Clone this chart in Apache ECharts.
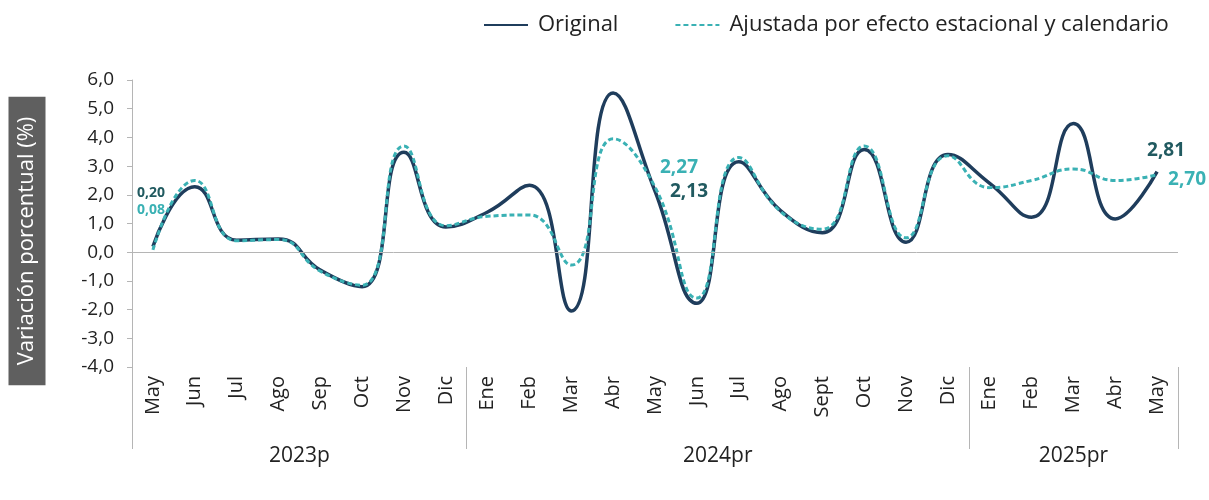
<!DOCTYPE html>
<html lang="es">
<head>
    <meta charset="UTF-8">
    <title>Variación porcentual</title>
    <script src="https://cdn.jsdelivr.net/npm/echarts@6/dist/echarts.min.js"></script>
</head>
<body style="margin:0;background:#fff">
<div id="main" style="width:1209px;height:500px"></div>
<script type="text/javascript">
    // meses (mayo 2023 - mayo 2025)
    var months = ['May', 'Jun', 'Jul', 'Ago', 'Sep', 'Oct', 'Nov', 'Dic',
        'Ene', 'Feb', 'Mar', 'Abr', 'May', 'Jun', 'Jul', 'Ago', 'Sept', 'Oct', 'Nov', 'Dic',
        'Ene', 'Feb', 'Mar', 'Abr', 'May'];
    var years = ['2023p', '2024pr', '2025pr'];
    var yearCounts = [8, 12, 5];
    var original = [0.20, 2.28, 0.42, 0.46, -0.62, -1.20, 3.48, 0.88,
        1.40, 2.33, -2.05, 5.55, 2.13, -1.78, 3.15, 1.45, 0.68, 3.58, 0.35, 3.40,
        2.40, 1.22, 4.48, 1.16, 2.81];
    var ajustada = [0.08, 2.50, 0.40, 0.44, -0.66, -1.15, 3.70, 0.92,
        1.25, 1.30, -0.45, 3.95, 2.27, -1.60, 3.30, 1.42, 0.80, 3.70, 0.50, 3.36,
        2.25, 2.50, 2.90, 2.50, 2.70];
    var yTicks = {min: -4, max: 6, interval: 1};
    var labelIdx = [0, 12, 24];   // puntos con etiqueta

    var fmt = function (v) { return v.toFixed(2).replace('.', ','); };

    // eje de años: 2 posiciones por mes, sin boundaryGap
    var yearAxis = [];
    for (var i = 0; i <= months.length * 2; i++) yearAxis.push('');
    var sepIdx = [], start = 0;
    years.forEach(function (y, k) {
        yearAxis[2 * start + yearCounts[k]] = y;
        sepIdx.push(2 * start);
        start += yearCounts[k];
    });
    sepIdx.push(2 * start);

    // desplazamiento de las etiquetas [serie][punto]
    var offs = {
        o: {0: [-2, -53], 12: [34, 1], 24: [9, -21]},
        a: {0: [-2, -40], 12: [24, -19], 24: [30, 5]}
    };
    function build(vals, key, color) {
        return vals.map(function (v, i) {
            if (labelIdx.indexOf(i) < 0) return v;
            var big = i !== 0;
            return {
                value: v, symbol: 'circle', symbolSize: 1,
                itemStyle: {color: 'rgba(0,0,0,0)', borderWidth: 0},
                label: {
                    show: true, position: 'inside', offset: offs[key][i],
                    formatter: function (p) { return fmt(p.value); },
                    color: color, fontWeight: 'bold',
                    fontSize: big ? 19 : 14, fontFamily: 'Open Sans'
                }
            };
        });
    }

    var myChart = echarts.init(document.getElementById('main'));
    var option = {
        animation: false,
        textStyle: {fontFamily: 'Open Sans'},
        legend: {
            top: 9, left: 478, itemWidth: 44, itemHeight: 14, itemGap: 56,
            itemStyle: {opacity: 0},
            textStyle: {fontSize: 22, color: '#222', padding: [0, 0, 0, 5]},
            data: ['Original', 'Ajustada por efecto estacional y calendario']
        },
        grid: {left: 132, right: 31, top: 80, bottom: 133},
        graphic: [{
            type: 'text', x: 27, y: 241, rotation: Math.PI / 2,
            style: {
                text: 'Variación porcentual (%)', fill: '#fff', fontSize: 22,
                fontFamily: 'Open Sans', align: 'center', verticalAlign: 'middle',
                backgroundColor: '#5f5f5f', padding: [8, 20, 7, 20]
            }
        }],
        xAxis: [{
            type: 'category', data: months, position: 'bottom',
            axisLine: {show: false}, axisTick: {show: false},
            axisLabel: {rotate: 90, interval: 0, margin: 9, fontSize: 20, color: '#222'}
        }, {
            type: 'category', data: yearAxis, boundaryGap: false, position: 'bottom',
            offset: 82,
            axisLine: {show: false},
            axisTick: {
                show: true, inside: true, length: 82,
                interval: function (idx) { return sepIdx.indexOf(idx) >= 0; },
                lineStyle: {color: '#b5b5b5', width: 1}
            },
            axisLabel: {
                interval: function (idx, val) { return val !== ''; },
                margin: -3, fontSize: 21, color: '#222'
            }
        }],
        yAxis: {
            type: 'value', min: yTicks.min, max: yTicks.max, interval: yTicks.interval,
            axisLine: {show: true, lineStyle: {color: '#b5b5b5'}},
            axisTick: {show: true, length: 5, lineStyle: {color: '#b5b5b5'}},
            splitLine: {show: false},
            axisLabel: {
                fontSize: 19, color: '#222', margin: 18,
                formatter: function (v) { return v.toFixed(1).replace('.', ','); }
            }
        },
        series: [{
            name: 'Original', type: 'line', smooth: 0.5, symbol: 'none', showSymbol: true,
            color: '#1f3d5c',
            lineStyle: {width: 3.5, color: '#1f3d5c'},
            data: build(original, 'o', '#215a60'),
            z: 3,
            markLine: {
                silent: true, symbol: 'none', label: {show: false},
                lineStyle: {color: '#b5b5b5', width: 1, type: 'solid'},
                data: [{yAxis: 0}]
            }
        }, {
            name: 'Ajustada por efecto estacional y calendario', type: 'line', smooth: 0.5,
            symbol: 'none', showSymbol: true,
            color: '#3ab1b4',
            lineStyle: {width: 3, color: '#3ab1b4', type: [5, 3]},
            data: build(ajustada, 'a', '#3ab1b4'),
            z: 4
        }]
    };
    myChart.setOption(option);
</script>
</body>
</html>
